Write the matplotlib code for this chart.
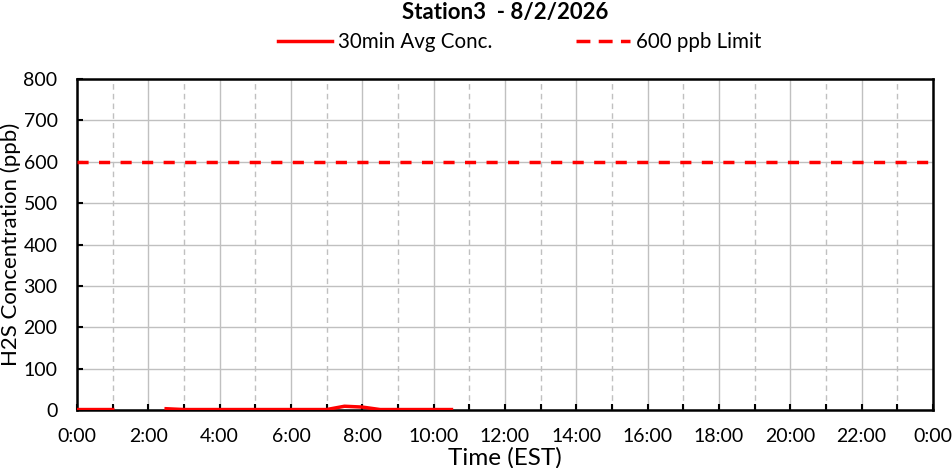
import numpy as np
import matplotlib
matplotlib.use('Agg')
import matplotlib.pyplot as plt
from matplotlib.lines import Line2D

plt.rcParams['font.family'] = ['Lato', 'DejaVu Sans']

# 30 minute samples, hours since midnight (nan = no data)
hours = [0, 0.5, 1, 1.5, 2, 2.5, 3, 3.5, 4, 4.5, 5, 5.5, 6, 6.5, 7,
         7.5, 8, 8.5, 9, 9.5, 10, 10.5]
conc = [1, 1, 1, np.nan, np.nan, 3, 1, 1, 1, 1, 1, 1, 1, 1, 1,
        9, 7, 1, 1, 1, 1, 1]
limit = 600
xtick_hours = list(range(0, 25, 2))
xtick_labels = ['0:00', '2:00', '4:00', '6:00', '8:00', '10:00', '12:00',
                '14:00', '16:00', '18:00', '20:00', '22:00', '0:00']
yticks = list(range(0, 801, 100))

RED = '#ff0000'
DASH = (0, (3.2, 3))

fig = plt.figure(figsize=(9.52, 4.68), dpi=100)
ax = fig.add_axes([0.0809, 0.124, 0.899, 0.707])

ax.plot(hours, conc, color=RED, lw=2.5, zorder=3)
ax.axhline(limit, color=RED, lw=2.5, ls=DASH, zorder=3)

ax.set_xlim(0, 24)
ax.set_ylim(0, 800)
ax.set_xticks(xtick_hours)
ax.set_xticklabels(xtick_labels)
ax.set_xticks(range(1, 24, 2), minor=True)
ax.set_yticks(yticks)

ax.grid(True, which='major', color='#c0c0c0', lw=1)
ax.grid(True, which='minor', axis='x', color='#c0c0c0', lw=1, ls=(0, (4, 3)))
ax.set_axisbelow(True)

ax.tick_params(which='both', direction='in', length=4, width=1.5,
               labelsize=14)
ax.tick_params(axis='x', pad=13)
ax.tick_params(axis='y', pad=14)
for s in ax.spines.values():
    s.set_linewidth(1.8)
    s.set_color('black')

ax.set_xlabel('Time (EST)', fontsize=17.5, va='center')
ax.xaxis.set_label_coords(0.5, -0.146)
ax.set_ylabel('H2S Concentration (ppb)', fontsize=16, va='center')
ax.yaxis.set_label_coords(-0.077, 0.5)

fig.text(0.531, 0.974, 'Station3  - 8/2/2026', ha='center', va='center',
         fontsize=16, fontweight='bold')

handles = [Line2D([], [], color=RED, lw=2.5),
           Line2D([], [], color=RED, lw=2.5, ls=(0, (4, 2.4)))]
fig.legend(handles, ['30min Avg Conc.', '600 ppb Limit'], loc='center',
           bbox_to_anchor=(0.546, 0.91), ncol=2, frameon=False, fontsize=14.8,
           handlelength=2.6, handletextpad=0.3, columnspacing=4.1)

fig.savefig('out.png', dpi=100)
